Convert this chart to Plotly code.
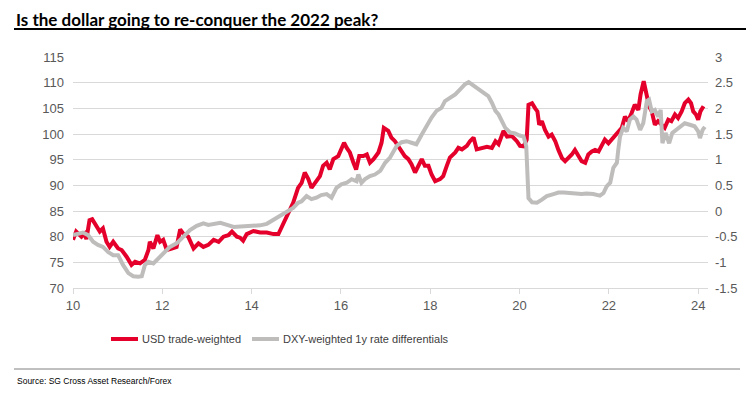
import plotly.graph_objects as go

# ---- data ----
usd_years = [10.0, 10.07, 10.19, 10.26, 10.3, 10.37, 10.43, 10.52, 10.6, 10.67, 10.75, 10.82, 10.9,
             11.01, 11.09, 11.2, 11.31, 11.39, 11.5, 11.61, 11.69, 11.72, 11.8, 11.89, 11.95, 12.02,
             12.1, 12.21, 12.32, 12.4, 12.47, 12.58, 12.7, 12.81, 12.92, 13.03, 13.15, 13.26, 13.37,
             13.48, 13.56, 13.67, 13.74, 13.81, 13.89, 14.04, 14.19, 14.34, 14.49, 14.6, 14.67, 14.78,
             14.86, 14.93, 15.04, 15.12, 15.19, 15.27, 15.34, 15.42, 15.53, 15.6, 15.68, 15.75, 15.83,
             15.94, 16.01, 16.07, 16.13, 16.2, 16.28, 16.34, 16.41, 16.5, 16.58, 16.65, 16.73, 16.84,
             16.91, 16.96, 17.06, 17.13, 17.21, 17.28, 17.36, 17.43, 17.51, 17.58, 17.66, 17.73, 17.81,
             17.88, 17.96, 18.03, 18.11, 18.22, 18.29, 18.37, 18.44, 18.56, 18.63, 18.71, 18.82, 18.89,
             18.97, 19.04, 19.16, 19.27, 19.38, 19.46, 19.53, 19.64, 19.72, 19.83, 19.94, 20.01, 20.09,
             20.16, 20.2, 20.28, 20.35, 20.4, 20.44, 20.5, 20.57, 20.65, 20.72, 20.8, 20.87, 20.95,
             21.02, 21.1, 21.17, 21.24, 21.32, 21.39, 21.47, 21.54, 21.62, 21.69, 21.77, 21.84, 21.91,
             21.99, 22.06, 22.13, 22.21, 22.29, 22.36, 22.43, 22.51, 22.58, 22.66, 22.71, 22.78, 22.85,
             22.9, 22.96, 23.03, 23.1, 23.18, 23.25, 23.33, 23.4, 23.48, 23.55, 23.63, 23.7, 23.78,
             23.84, 23.89, 23.95, 24.0, 24.05, 24.12]
usd_values = [79.4, 81.0, 80.0, 80.6, 79.5, 83.2, 83.4, 82.0, 81.0, 81.6, 79.0, 78.0, 79.0,
              77.7, 77.4, 76.1, 74.5, 75.1, 74.8, 75.5, 77.4, 79.0, 77.7, 80.3, 79.0, 79.4,
              77.4, 77.7, 78.0, 81.4, 80.6, 80.0, 77.7, 78.7, 78.0, 78.4, 79.4, 79.0, 80.0,
              80.3, 81.0, 80.0, 79.8, 79.2, 80.5, 81.1, 80.8, 80.8, 80.5, 80.5, 81.8, 83.4,
              85.3, 86.6, 89.5, 90.5, 92.5, 91.2, 89.5, 90.5, 91.8, 93.8, 94.4, 93.1, 95.1,
              95.7, 97.0, 98.3, 97.3, 96.4, 94.4, 93.1, 95.7, 95.7, 96.0, 94.4, 95.1, 96.4,
              98.3, 101.2, 100.6, 99.3, 98.6, 97.7, 96.7, 95.7, 95.1, 94.1, 92.5, 93.8, 95.1,
              93.8, 93.8, 92.1, 90.8, 91.2, 91.8, 93.8, 95.4, 96.4, 97.3, 97.0, 97.7, 98.6,
              99.3, 97.0, 97.3, 97.5, 97.3, 98.6, 98.0, 100.6, 99.5, 99.6, 98.6, 97.7, 97.6,
              98.9, 105.7, 106.0, 105.0, 104.4, 101.8, 102.5, 100.8, 99.5, 99.9, 98.6, 96.9, 95.3,
              94.7, 95.3, 96.0, 96.9, 95.6, 94.7, 94.4, 96.0, 96.6, 96.9, 96.6, 97.6, 98.9,
              98.2, 98.9, 99.5, 100.2, 101.2, 103.4, 102.5, 104.1, 105.7, 104.7, 107.7, 110.3, 107.7,
              105.4, 104.4, 101.8, 102.5, 101.8, 101.2, 102.8, 102.5, 103.8, 103.1, 104.4, 106.0, 106.7,
              106.0, 104.4, 103.8, 102.8, 104.4, 105.4]

rate_years = [10.0, 10.1, 10.22, 10.34, 10.45, 10.56, 10.67, 10.79, 10.9, 11.01, 11.12, 11.24, 11.35,
              11.46, 11.54, 11.61, 11.69, 11.8, 11.91, 12.02, 12.17, 12.32, 12.47, 12.62, 12.77, 12.92,
              13.03, 13.15, 13.3, 13.45, 13.6, 13.75, 13.9, 14.05, 14.19, 14.34, 14.49, 14.6, 14.67,
              14.78, 14.93, 15.04, 15.12, 15.23, 15.34, 15.45, 15.56, 15.68, 15.79, 15.9, 16.01, 16.13,
              16.24, 16.35, 16.39, 16.46, 16.54, 16.65, 16.76, 16.88, 16.99, 17.1, 17.17, 17.25, 17.36,
              17.47, 17.58, 17.69, 17.81, 17.92, 18.03, 18.14, 18.25, 18.33, 18.44, 18.56, 18.67, 18.78,
              18.86, 18.97, 19.08, 19.19, 19.3, 19.38, 19.46, 19.53, 19.6, 19.68, 19.79, 19.9, 20.0,
              20.09, 20.15, 20.18, 20.2, 20.28, 20.39, 20.5, 20.61, 20.76, 20.87, 20.99, 21.1, 21.24,
              21.39, 21.5, 21.65, 21.8, 21.88, 21.95, 22.03, 22.1, 22.18, 22.21, 22.25, 22.32, 22.4,
              22.47, 22.55, 22.62, 22.7, 22.77, 22.85, 22.9, 22.96, 23.03, 23.1, 23.16, 23.2, 23.27,
              23.35, 23.42, 23.51, 23.59, 23.7, 23.81, 23.92, 24.0, 24.04, 24.1, 24.15]
rate_values = [-0.47, -0.44, -0.42, -0.47, -0.6, -0.66, -0.7, -0.8, -0.86, -0.86, -1.05, -1.21, -1.27,
               -1.28, -1.27, -1.05, -0.99, -1.02, -0.92, -0.82, -0.7, -0.63, -0.5, -0.37, -0.29, -0.24,
               -0.27, -0.25, -0.23, -0.27, -0.31, -0.3, -0.29, -0.28, -0.28, -0.25, -0.17, -0.13, -0.08,
               -0.03, 0.06, 0.16, 0.19, 0.29, 0.23, 0.26, 0.31, 0.33, 0.26, 0.45, 0.52, 0.55,
               0.62, 0.58, 0.71, 0.55, 0.62, 0.68, 0.71, 0.78, 0.94, 1.04, 1.14, 1.27, 1.34,
               1.36, 1.33, 1.3, 1.49, 1.66, 1.82, 1.95, 2.01, 2.14, 2.21, 2.27, 2.37, 2.47,
               2.51, 2.44, 2.37, 2.31, 2.24, 2.11, 1.95, 1.88, 1.75, 1.62, 1.53, 1.51, 1.47,
               1.45, 1.26, 0.74, 0.25, 0.17, 0.16, 0.22, 0.29, 0.33, 0.36, 0.36, 0.35, 0.34,
               0.33, 0.34, 0.33, 0.3, 0.35, 0.48, 0.55, 0.84, 0.94, 1.19, 1.45, 1.62, 1.55,
               1.78, 1.84, 1.78, 1.58, 1.71, 2.14, 2.17, 1.94, 1.97, 1.84, 1.97, 1.32, 1.52,
               1.32, 1.52, 1.58, 1.62, 1.71, 1.68, 1.65, 1.55, 1.42, 1.58, 1.64]

x_ticks = [10, 12, 14, 16, 18, 20, 22, 24]
left_ticks = [70, 75, 80, 85, 90, 95, 100, 105, 110, 115]
right_tickvals = [-1.5, -1, -0.5, 0, 0.5, 1, 1.5, 2, 2.5, 3]
right_ticktext = ["-1.5", "-1", "-0.5", "0", "0.5", "1", "1.5", "2", "2.5", "3"]

series_names = ["USD trade-weighted", "DXY-weighted 1y rate differentials"]
title_text = "Is the dollar going to re-conquer the 2022 peak?"
source_text = "Source: SG Cross Asset Research/Forex"

RED = "#E4002B"
GREY = "#BFBCBC"

# ---- geometry (page pixels; the page body adds an 8px offset) ----
OFF = 8
W, H = 754 - OFF, 397 - OFF
L = 73 - OFF
T = 57 - OFF
R = W - (708 - OFF)
B = H - (288 - OFF)
PW, PH = W - L - R, H - T - B
def px(x):
    return (x - OFF - L) / PW
def py(y):
    return (H - B - (y - OFF)) / PH

fig = go.Figure()
fig.add_trace(go.Scatter(x=usd_years, y=usd_values, mode="lines", name=series_names[0],
                         line=dict(color=RED, width=4), showlegend=False, yaxis="y"))
fig.add_trace(go.Scatter(x=rate_years, y=rate_values, mode="lines", name=series_names[1],
                         line=dict(color=GREY, width=4), showlegend=False, yaxis="y2"))

tickfont = dict(family="Liberation Sans, Arial, sans-serif", size=13, color="#595959")
fig.update_layout(
    width=W, height=H,
    margin=dict(l=L, r=R, t=T, b=B, autoexpand=False),
    paper_bgcolor="white", plot_bgcolor="white",
    xaxis=dict(range=[10, 24.22], tickvals=x_ticks, ticktext=[str(v) for v in x_ticks],
               showgrid=False, zeroline=False, showline=True, linecolor="#D9D9D9", linewidth=1,
               ticks="outside", ticklen=5, tickcolor="#D9D9D9", tickfont=tickfont),
    yaxis=dict(range=[70, 115], tickvals=left_ticks, showgrid=True, gridcolor="#D9D9D9",
               gridwidth=1, zeroline=False, showline=False, ticks="", tickfont=tickfont,
               ticklabelstandoff=8),
    yaxis2=dict(range=[-1.5, 3], tickvals=right_tickvals, ticktext=right_ticktext,
                overlaying="y", side="right", showgrid=False, zeroline=False, showline=False,
                ticks="", tickfont=tickfont, ticklabelstandoff=6),
    showlegend=False,
)

# title + rule
fig.add_annotation(xref="paper", yref="paper", x=px(15), y=py(8), xanchor="left", yanchor="top",
                   text="<b>" + title_text + "</b>", showarrow=False, borderpad=0,
                   font=dict(family="Lato, Open Sans, sans-serif", size=17, color="#000000"))
fig.add_shape(type="line", xref="paper", yref="paper", x0=px(14), x1=px(754), y0=py(29), y1=py(29),
              line=dict(color="#000000", width=2))

# legend (manual)
legend_font = dict(family="Liberation Sans, Arial, sans-serif", size=11, color="#404040")
fig.add_shape(type="line", xref="paper", yref="paper", x0=px(111), x1=px(138), y0=py(339), y1=py(339),
              line=dict(color=RED, width=4))
fig.add_annotation(xref="paper", yref="paper", x=px(140), y=py(339), xanchor="left", yanchor="middle",
                   text=series_names[0], showarrow=False, font=legend_font)
fig.add_shape(type="line", xref="paper", yref="paper", x0=px(252), x1=px(279), y0=py(339), y1=py(339),
              line=dict(color=GREY, width=4))
fig.add_annotation(xref="paper", yref="paper", x=px(281), y=py(339), xanchor="left", yanchor="middle",
                   text=series_names[1], showarrow=False, font=legend_font)

# source rule + text
fig.add_shape(type="line", xref="paper", yref="paper", x0=px(14), x1=px(740), y0=py(369), y1=py(369),
              line=dict(color="#808080", width=1))
fig.add_annotation(xref="paper", yref="paper", x=px(15), y=py(381), xanchor="left", yanchor="middle",
                   text=source_text, showarrow=False,
                   font=dict(family="Liberation Sans, Arial, sans-serif", size=8.5, color="#000000"))

fig.write_html("out.html")
